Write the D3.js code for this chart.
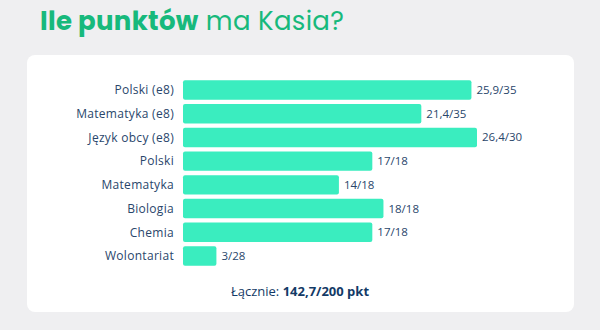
<!DOCTYPE html>
<html>
<head>
<meta charset="utf-8">
<script src="https://cdn.jsdelivr.net/npm/d3@7"></script>
<style>
  html, body { margin: 0; padding: 0; background: #efeff1; }
  svg { display: block; font-family: "Open Sans", sans-serif; }
</style>
</head>
<body>
<div id="chart"></div>
<script>
// subjects, points scored and max points
const subjects = ["Polski (e8)", "Matematyka (e8)", "Język obcy (e8)", "Polski", "Matematyka", "Biologia", "Chemia", "Wolontariat"];
const scores = [25.9, 21.4, 26.4, 17, 14, 18, 17, 3];
const maxPoints = [35, 35, 30, 18, 18, 18, 18, 28];
const totalLabel = "Łącznie:";
const totalValue = "142,7/200 pkt";

const width = 600, height = 330;
const fmt = v => String(v).replace(".", ",");

const svg = d3.select("#chart").append("svg")
    .attr("width", width)
    .attr("height", height);

svg.append("rect")
    .attr("width", width).attr("height", height)
    .attr("fill", "#efeff1");

// title
const title = svg.append("text")
    .attr("x", 40).attr("y", 30)
    .attr("fill", "#17b97c")
    .style("font-family", "Poppins, 'Open Sans', sans-serif")
    .style("font-size", "26px")
    .style("letter-spacing", "0.3px");
title.append("tspan").attr("font-weight", 700).text("Ile punktów");
title.append("tspan").attr("font-weight", 400).text(" ma Kasia?");

// card
svg.append("rect")
    .attr("x", 27).attr("y", 55)
    .attr("width", 547).attr("height", 257)
    .attr("rx", 8)
    .attr("fill", "#ffffff");

const x = d3.scaleLinear()
    .domain([0, d3.max(scores)])
    .range([183, 477]);

const y = d3.scaleBand()
    .domain(subjects)
    .range([79, 267])
    .paddingInner(0.18)
    .paddingOuter(0.05);

const g = svg.append("g");

g.selectAll("rect.bar")
    .data(subjects)
    .join("rect")
    .attr("class", "bar")
    .attr("x", x(0))
    .attr("y", d => y(d))
    .attr("width", (d, i) => x(scores[i]) - x(0))
    .attr("height", y.bandwidth())
    .attr("rx", 2)
    .attr("fill", "#3aedbf");

g.selectAll("text.cat")
    .data(subjects)
    .join("text")
    .attr("class", "cat")
    .attr("x", 174)
    .attr("y", d => y(d) + y.bandwidth() / 2)
    .attr("dy", "0.35em")
    .attr("text-anchor", "end")
    .attr("fill", "#29466b")
    .style("font-size", "12px")
    .style("letter-spacing", "0.3px")
    .text(d => d);

g.selectAll("text.val")
    .data(subjects)
    .join("text")
    .attr("class", "val")
    .attr("x", (d, i) => x(scores[i]) + 5)
    .attr("y", d => y(d) + y.bandwidth() / 2)
    .attr("dy", "0.35em")
    .attr("fill", "#29466b")
    .style("font-size", "11.5px")
    .text((d, i) => `${fmt(scores[i])}/${maxPoints[i]}`);

// total
const total = svg.append("text")
    .attr("x", 300).attr("y", 296)
    .attr("text-anchor", "middle")
    .attr("fill", "#133a66")
    .style("font-size", "13px");
total.append("tspan").text(totalLabel + " ");
total.append("tspan").attr("font-weight", 700).text(totalValue);
</script>
</body>
</html>
